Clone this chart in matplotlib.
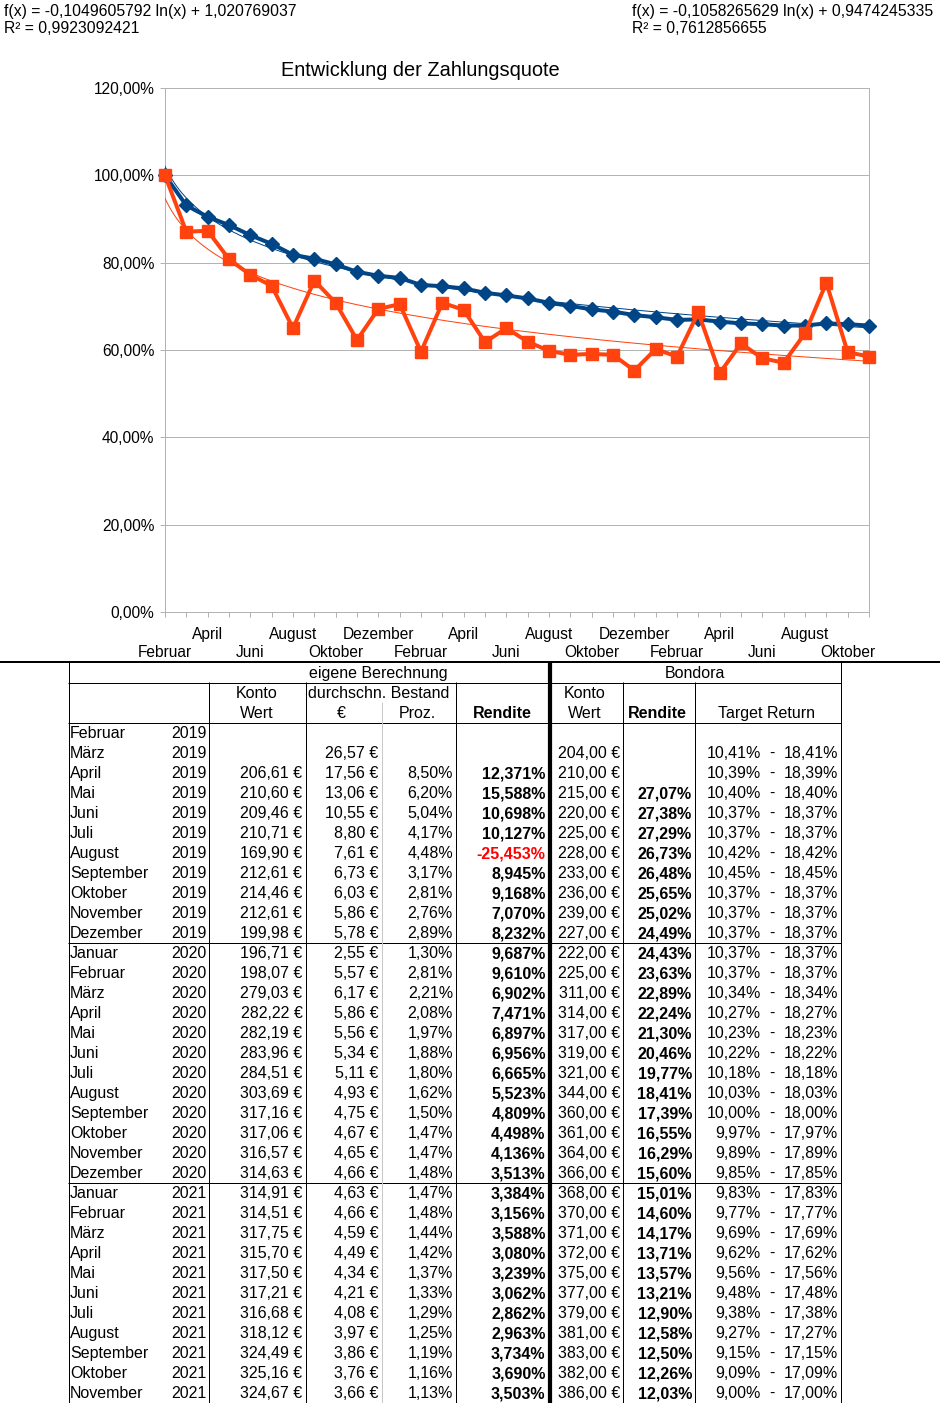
import numpy as np
import matplotlib
matplotlib.use('Agg')
import matplotlib.pyplot as plt
from matplotlib.ticker import FuncFormatter, FixedLocator, FixedFormatter

plt.rcParams['font.family'] = ['Liberation Sans', 'DejaVu Sans']

# ---------------- data ----------------
months = ['Februar', 'März', 'April', 'Mai', 'Juni', 'Juli', 'August', 'September',
          'Oktober', 'November', 'Dezember',
          'Januar', 'Februar', 'März', 'April', 'Mai', 'Juni', 'Juli', 'August',
          'September', 'Oktober', 'November', 'Dezember',
          'Januar', 'Februar', 'März', 'April', 'Mai', 'Juni', 'Juli', 'August',
          'September', 'Oktober', 'November']
years = [2019] * 11 + [2020] * 12 + [2021] * 11

quote_blue = [100.0, 93.1, 90.5, 88.6, 86.3, 84.3, 81.8, 80.9, 79.6, 77.9, 77.0, 76.5,
              74.9, 74.6, 74.1, 73.1, 72.5, 71.8, 70.8, 70.1, 69.3, 68.8, 68.0, 67.5,
              66.9, 67.0, 66.5, 66.1, 65.9, 65.6, 65.6, 66.1, 65.9, 65.6]
quote_orange = [100.0, 87.1, 87.3, 80.8, 77.2, 74.7, 65.0, 75.9, 70.8, 62.3, 69.4, 70.5,
                59.6, 70.8, 69.2, 61.8, 65.0, 61.9, 59.8, 58.9, 59.1, 58.9, 55.3, 60.2,
                58.5, 68.6, 54.7, 61.5, 58.1, 57.1, 63.8, 75.4, 59.5, 58.5]

trend_blue = (-0.1049605792, 1.020769037, 0.9923092421)
trend_orange = (-0.1058265629, 0.9474245335, 0.7612856655)

yticks = [0.0, 0.2, 0.4, 0.6, 0.8, 1.0, 1.2]

konto_wert = [None, None, 206.61, 210.60, 209.46, 210.71, 169.90, 212.61, 214.46, 212.61, 199.98,
              196.71, 198.07, 279.03, 282.22, 282.19, 283.96, 284.51, 303.69, 317.16, 317.06, 316.57, 314.63,
              314.91, 314.51, 317.75, 315.70, 317.50, 317.21, 316.68, 318.12, 324.49, 325.16, 324.67]
bestand_eur = [None, 26.57, 17.56, 13.06, 10.55, 8.80, 7.61, 6.73, 6.03, 5.86, 5.78,
               2.55, 5.57, 6.17, 5.86, 5.56, 5.34, 5.11, 4.93, 4.75, 4.67, 4.65, 4.66,
               4.63, 4.66, 4.59, 4.49, 4.34, 4.21, 4.08, 3.97, 3.86, 3.76, 3.66]
bestand_proz = [None, None, 8.50, 6.20, 5.04, 4.17, 4.48, 3.17, 2.81, 2.76, 2.89,
                1.30, 2.81, 2.21, 2.08, 1.97, 1.88, 1.80, 1.62, 1.50, 1.47, 1.47, 1.48,
                1.47, 1.48, 1.44, 1.42, 1.37, 1.33, 1.29, 1.25, 1.19, 1.16, 1.13]
rendite = [None, None, 12.371, 15.588, 10.698, 10.127, -25.453, 8.945, 9.168, 7.070, 8.232,
           9.687, 9.610, 6.902, 7.471, 6.897, 6.956, 6.665, 5.523, 4.809, 4.498, 4.136, 3.513,
           3.384, 3.156, 3.588, 3.080, 3.239, 3.062, 2.862, 2.963, 3.734, 3.690, 3.503]
bondora_konto = [None, 204.00, 210.00, 215.00, 220.00, 225.00, 228.00, 233.00, 236.00, 239.00, 227.00,
                 222.00, 225.00, 311.00, 314.00, 317.00, 319.00, 321.00, 344.00, 360.00, 361.00, 364.00, 366.00,
                 368.00, 370.00, 371.00, 372.00, 375.00, 377.00, 379.00, 381.00, 383.00, 382.00, 386.00]
bondora_rendite = [None, None, None, 27.07, 27.38, 27.29, 26.73, 26.48, 25.65, 25.02, 24.49,
                   24.43, 23.63, 22.89, 22.24, 21.30, 20.46, 19.77, 18.41, 17.39, 16.55, 16.29, 15.60,
                   15.01, 14.60, 14.17, 13.71, 13.57, 13.21, 12.90, 12.58, 12.50, 12.26, 12.03]
target_low = [None, 10.41, 10.39, 10.40, 10.37, 10.37, 10.42, 10.45, 10.37, 10.37, 10.37,
              10.37, 10.37, 10.34, 10.27, 10.23, 10.22, 10.18, 10.03, 10.00, 9.97, 9.89, 9.85,
              9.83, 9.77, 9.69, 9.62, 9.56, 9.48, 9.38, 9.27, 9.15, 9.09, 9.00]
target_high = [None, 18.41, 18.39, 18.40, 18.37, 18.37, 18.42, 18.45, 18.37, 18.37, 18.37,
               18.37, 18.37, 18.34, 18.27, 18.23, 18.22, 18.18, 18.03, 18.00, 17.97, 17.89, 17.85,
               17.83, 17.77, 17.69, 17.62, 17.56, 17.48, 17.38, 17.27, 17.15, 17.09, 17.00]

BLUE = '#004586'
ORANGE = '#ff420e'
GRID = '#b3b3b3'

W, H = 940, 1403
PT = 0.72  # px -> pt at dpi 100


def de(v, nd):
    return f"{v:.{nd}f}".replace('.', ',')


fig = plt.figure(figsize=(W / 100, H / 100), dpi=100)

# overlay axes in pixel coordinates (table, texts)
tax = fig.add_axes([0, 0, 1, 1])
tax.set_xlim(0, W)
tax.set_ylim(H, 0)
tax.axis('off')

# ---------------- chart ----------------
ax = fig.add_axes([165 / W, 1 - 612 / H, 704 / W, 524 / H])
x = np.arange(len(months))
xb = np.array(quote_blue) / 100
xo = np.array(quote_orange) / 100

xs = np.linspace(1, len(months), 300)
ax.plot(xs - 1, trend_blue[0] * np.log(xs) + trend_blue[1], color=BLUE, lw=1.0 * PT, zorder=3)
ax.plot(xs - 1, trend_orange[0] * np.log(xs) + trend_orange[1], color=ORANGE, lw=1.0 * PT, zorder=3)
ax.plot(x, xb, color=BLUE, lw=4 * PT, marker='D', ms=9.5 * PT, zorder=4, clip_on=False)
ax.plot(x, xo, color=ORANGE, lw=4 * PT, marker='s', ms=11.5 * PT, zorder=5, clip_on=False)

ax.set_xlim(0, len(months) - 1)
ax.set_ylim(0, 1.2)
ax.set_yticks(yticks)
ax.yaxis.set_major_formatter(FuncFormatter(lambda v, p: de(v * 100, 2) + '%'))

# upper label row (major ticks at every month), lower row via minor ticks
upper = [m if i % 4 == 2 else '' for i, m in enumerate(months)]
lower_pos = [i for i in range(len(months)) if i % 4 == 0]
lower = [months[i] for i in lower_pos]
ax.xaxis.remove_overlapping_locs = False
ax.xaxis.set_major_locator(FixedLocator(list(x)))
ax.xaxis.set_major_formatter(FixedFormatter(upper))
ax.xaxis.set_minor_locator(FixedLocator(lower_pos))
ax.xaxis.set_minor_formatter(FixedFormatter(lower))

ax.tick_params(axis='both', which='both', direction='out', length=5 * PT, width=1 * PT,
               color=GRID, labelsize=15.5 * PT, labelcolor='black')
ax.tick_params(axis='x', which='major', pad=8.5 * PT + 1)
ax.tick_params(axis='x', which='minor', pad=(10.5 + 18) * PT)
ax.tick_params(axis='y', pad=4)
ax.yaxis.grid(True, color=GRID, lw=1 * PT)
ax.set_axisbelow(True)
for s in ax.spines.values():
    s.set_color(GRID)
    s.set_linewidth(1 * PT)
ax.patch.set_alpha(0)

# titles / trend equations
fig.text(420 / W, 1 - 70 / H, 'Entwicklung der Zahlungsquote', ha='center', va='center',
         fontsize=20 * PT)
EQ = 15.8 * PT
tax.text(4, 16, 'f(x) = ' + de(trend_blue[0], 10) + ' ln(x) + ' + de(trend_blue[1], 9),
         ha='left', va='baseline', fontsize=EQ)
tax.text(4, 33, 'R² = ' + de(trend_blue[2], 10), ha='left', va='baseline', fontsize=EQ)
tax.text(632, 16, 'f(x) = ' + de(trend_orange[0], 10) + ' ln(x) + ' + de(trend_orange[1], 10),
         ha='left', va='baseline', fontsize=EQ)
tax.text(632, 33, 'R² = ' + de(trend_orange[2], 10), ha='left', va='baseline', fontsize=EQ)

# ---------------- table ----------------
FS = 16 * PT
k = dict(color='black', lw=1 * PT, solid_capstyle='butt')
tax.plot([0, W], [661.5, 661.5], color='black', lw=2 * PT, solid_capstyle='butt')
bottom = H
tax.plot([68.5, 68.5], [661, bottom], **k)
tax.plot([840.5, 840.5], [661, bottom], **k)
for yy in [682.5, 722.5, 942.5, 1182.5]:
    tax.plot([68, 841], [yy, yy], **k)
for xx in [208.5, 305.5, 455.5, 622.5, 694.5]:
    tax.plot([xx, xx], [682, bottom], **k)
tax.plot([381.5, 381.5], [702, bottom], color='#c8c8c8', lw=1 * PT, solid_capstyle='butt')
tax.plot([549.5, 549.5], [661, bottom], color='black', lw=4.2 * PT, solid_capstyle='butt')

# headers
tax.text(378, 678, 'eigene Berechnung', ha='center', va='baseline', fontsize=FS)
tax.text(694.5, 678, 'Bondora', ha='center', va='baseline', fontsize=FS)
tax.text(256.5, 698, 'Konto', ha='center', va='baseline', fontsize=FS)
tax.text(256.5, 718, 'Wert', ha='center', va='baseline', fontsize=FS)
tax.text(379, 698, 'durchschn. Bestand', ha='center', va='baseline', fontsize=FS)
tax.text(341, 718, '€', ha='center', va='baseline', fontsize=FS)
tax.text(417, 718, 'Proz.', ha='center', va='baseline', fontsize=FS)
tax.text(502, 718, 'Rendite', ha='center', va='baseline', fontsize=FS, fontweight='bold')
tax.text(585, 698, 'Konto', ha='center', va='baseline', fontsize=FS)
tax.text(585, 718, 'Wert', ha='center', va='baseline', fontsize=FS)
tax.text(657.5, 718, 'Rendite', ha='center', va='baseline', fontsize=FS, fontweight='bold')
tax.text(766, 718, 'Target Return', ha='center', va='baseline', fontsize=FS)

for i in range(len(months)):
    yb = 738.3 + 20 * i
    tax.text(70, yb, months[i], ha='left', va='baseline', fontsize=FS)
    tax.text(207, yb, str(years[i]), ha='right', va='baseline', fontsize=FS)
    if konto_wert[i] is not None:
        tax.text(302.5, yb, de(konto_wert[i], 2) + ' €', ha='right', va='baseline', fontsize=FS)
    if bestand_eur[i] is not None:
        tax.text(378.5, yb, de(bestand_eur[i], 2) + ' €', ha='right', va='baseline', fontsize=FS)
    if bestand_proz[i] is not None:
        tax.text(453, yb, de(bestand_proz[i], 2) + '%', ha='right', va='baseline', fontsize=FS)
    if rendite[i] is not None:
        col = '#ff0000' if rendite[i] < 0 else 'black'
        tax.text(545.5, yb, de(rendite[i], 3) + '%', ha='right', va='baseline', fontsize=FS,
                 fontweight='bold', color=col)
    if bondora_konto[i] is not None:
        tax.text(620, yb, de(bondora_konto[i], 2) + ' €', ha='right', va='baseline', fontsize=FS)
    if bondora_rendite[i] is not None:
        tax.text(692, yb, de(bondora_rendite[i], 2) + '%', ha='right', va='baseline', fontsize=FS,
                 fontweight='bold')
    if target_low[i] is not None:
        tax.text(761, yb, de(target_low[i], 2) + '%', ha='right', va='baseline', fontsize=FS)
        tax.text(772, yb, '-', ha='center', va='baseline', fontsize=FS)
        tax.text(838, yb, de(target_high[i], 2) + '%', ha='right', va='baseline', fontsize=FS)

fig.savefig('out.png', dpi=100)
